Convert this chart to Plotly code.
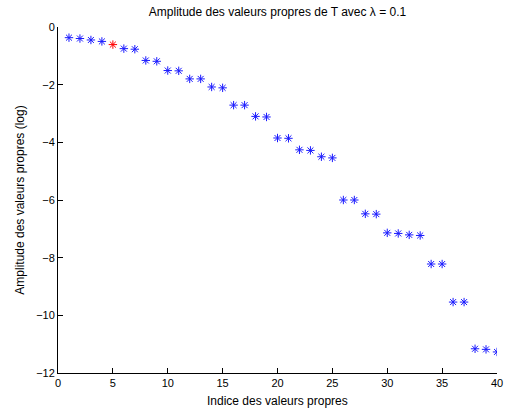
import plotly.graph_objects as go

indices = list(range(1, 41))
amplitudes = [-0.37, -0.40, -0.45, -0.50, -0.61, -0.75, -0.77, -1.16, -1.19, -1.51,
              -1.52, -1.80, -1.80, -2.08, -2.11, -2.71, -2.71, -3.10, -3.12, -3.85,
              -3.86, -4.26, -4.28, -4.50, -4.54, -6.00, -6.00, -6.48, -6.49, -7.14,
              -7.16, -7.21, -7.23, -8.22, -8.22, -9.54, -9.54, -11.16, -11.18, -11.27]
highlight_index = 5

x_ticks = [0, 5, 10, 15, 20, 25, 30, 35, 40]
y_ticks = [0, -2, -4, -6, -8, -10, -12]
y_tick_labels = ["0", "\u22122", "\u22124", "\u22126", "\u22128", "\u221210", "\u221212"]

title = "Amplitude des valeurs propres de T avec \u03bb = 0.1"
x_title = "Indice des valeurs propres"
y_title = "Amplitude des valeurs propres (log)"

colors = ["#ff0000" if i == highlight_index else "#1a1aff" for i in indices]

fig = go.Figure()
fig.add_trace(go.Scatter(
    x=indices, y=amplitudes, mode="markers",
    marker=dict(symbol="asterisk-open", size=7, color=colors,
                line=dict(width=1, color=colors)),
    showlegend=False,
))

font = "Liberation Sans, Arial, Helvetica, sans-serif"
H = 412
plot_top, plot_bottom = 26.7, 373.4
plot_h = plot_bottom - plot_top

fig.update_layout(
    width=506, height=H,
    margin=dict(l=57.5, r=9.3, t=plot_top, b=H - plot_bottom, autoexpand=False),
    paper_bgcolor="white", plot_bgcolor="white",
    font=dict(family=font, size=11, color="black"),
    title=dict(text=title, x=0.5, xref="paper", xanchor="center",
               y=1 - 12 / H, yref="container", yanchor="middle",
               font=dict(size=12, family=font, color="black")),
    xaxis=dict(range=[0, 40], tickvals=x_ticks, ticks="inside", ticklen=5,
               tickcolor="black", showline=True, linecolor="black", linewidth=1,
               showgrid=False, zeroline=False, mirror=False, automargin=False,
               tickfont=dict(size=11)),
    yaxis=dict(range=[-12, 0], tickvals=y_ticks, ticktext=y_tick_labels,
               ticks="inside", ticklen=5, tickcolor="black",
               showline=True, linecolor="black", linewidth=1,
               showgrid=False, zeroline=False, mirror=False, automargin=False,
               tickfont=dict(size=11),
               title=dict(text=y_title, standoff=8, font=dict(size=12))),
    annotations=[dict(text=x_title, xref="paper", yref="paper", x=0.5,
                      y=-(401 - plot_bottom) / plot_h, xanchor="center",
                      yanchor="middle", showarrow=False,
                      font=dict(size=12, family=font, color="black"))],
)

fig.write_html("out.html", config={"displayModeBar": False},
               post_script="document.body.style.margin='0px';document.body.style.overflow='hidden';")
